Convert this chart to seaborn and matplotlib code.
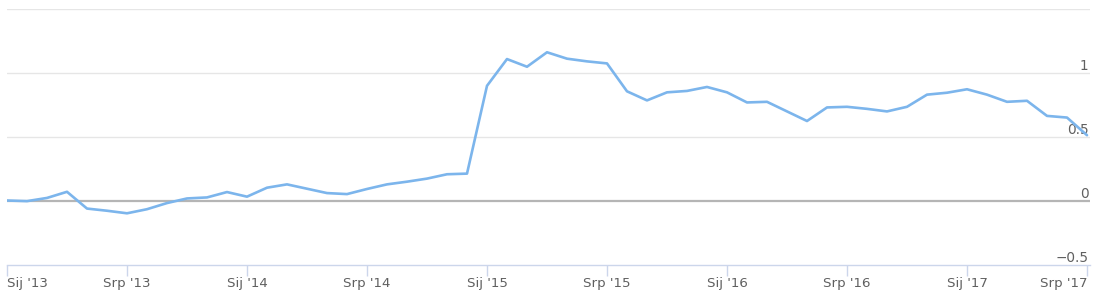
import matplotlib
matplotlib.use("Agg")
import matplotlib.pyplot as plt
import seaborn as sns
import pandas as pd
import numpy as np

# ---- data (monthly, Jan 2013 .. Jul 2017) ----
values_2013 = [0.00, -0.005, 0.02, 0.068, -0.063, -0.08, -0.10, -0.068, -0.02, 0.016, 0.024, 0.066]
values_2014 = [0.03, 0.10, 0.126, 0.092, 0.058, 0.05, 0.09, 0.126, 0.147, 0.171, 0.205, 0.21]
values_2015 = [0.896, 1.105, 1.045, 1.158, 1.108, 1.087, 1.071, 0.853, 0.782, 0.845, 0.856, 0.887]
values_2016 = [0.845, 0.766, 0.771, 0.696, 0.621, 0.727, 0.732, 0.716, 0.696, 0.732, 0.827, 0.842]
values_2017 = [0.869, 0.827, 0.771, 0.779, 0.661, 0.648, 0.51]

x_tick_labels = ["Sij '13", "Srp '13", "Sij '14", "Srp '14", "Sij '15", "Srp '15",
                 "Sij '16", "Srp '16", "Sij '17", "Srp '17"]
y_ticks = [-0.5, 0, 0.5, 1, 1.5]
y_tick_labels = ["\u22120.5", "0", "0.5", "1", ""]

values = values_2013 + values_2014 + values_2015 + values_2016 + values_2017
df = pd.DataFrame({"month": np.arange(len(values)), "value": values})

sns.set_theme(style="white")
plt.rcParams['font.family'] = ['DejaVu Sans']

W, H = 1096, 303
fig = plt.figure(figsize=(W / 100, H / 100), dpi=100)
left_px, right_px = 7, 1090
top_px, bottom_px = 8.5, 264.5
ax = fig.add_axes([left_px / W, 1 - bottom_px / H, (right_px - left_px) / W, (bottom_px - top_px) / H])

sns.lineplot(data=df, x="month", y="value", ax=ax, color="#7cb5ec", linewidth=1.9,
             zorder=5, clip_on=True)

ax.set_xlim(0, len(values) - 1 + 0.15)
ax.set_ylim(-0.5, 1.5)

# grid lines
for yv in y_ticks:
    if yv == 0:
        ax.axhline(yv, color="#b5b5b5", linewidth=1.6, zorder=2)
    elif yv == -0.5:
        pass
    else:
        ax.axhline(yv, color="#e6e6e6", linewidth=1.0, zorder=1)

for s in ["top", "left", "right"]:
    ax.spines[s].set_visible(False)
ax.spines["bottom"].set_color("#ccd6eb")
ax.spines["bottom"].set_linewidth(1.0)

# x ticks
xt = np.arange(0, len(values), 6)
ax.set_xticks(xt)
ax.set_xticklabels(x_tick_labels)
ax.tick_params(axis="x", direction="out", length=8, width=1, color="#ccd6eb",
               pad=1.0, labelsize=9.6, labelcolor="#606060", bottom=True)
xl = ax.get_xticklabels()
xl[0].set_horizontalalignment("left")
xl[-1].set_horizontalalignment("right")

# y ticks on right, inside
ax.yaxis.tick_right()
ax.set_yticks(y_ticks)
ax.set_yticklabels(y_tick_labels)
ax.tick_params(axis="y", length=0, pad=-1, labelsize=9.8, labelcolor="#606060",
               left=False, right=False)
for lbl in ax.get_yticklabels():
    lbl.set_horizontalalignment("right")
    lbl.set_verticalalignment("bottom")

ax.set_xlabel("")
ax.set_ylabel("")
ax.set_facecolor("white")

fig.savefig("out.png", dpi=100, facecolor="white")
